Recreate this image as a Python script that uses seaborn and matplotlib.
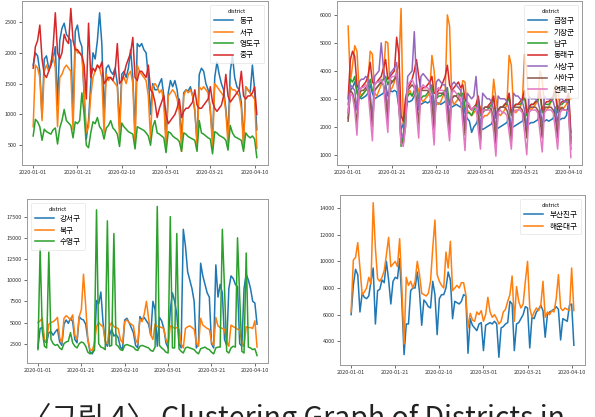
import numpy as np
import pandas as pd
import matplotlib
matplotlib.use("Agg")
import matplotlib.pyplot as plt
import matplotlib.dates as mdates
from matplotlib.ticker import MultipleLocator
import seaborn as sns

plt.rcParams["font.family"] = ["Noto Sans CJK KR", "DejaVu Sans"]

N_DAYS = 102
START = "2020-01-01"

# ---- panel 1 ----
dong_gu = [1800, 2000, 1950, 1700, 950, 1900, 1950,
           1750, 1800, 1900, 2100, 1150, 2200, 2400,
           2480, 2300, 2250, 2200, 900, 2350, 2450,
           2200, 2100, 1300, 600, 900, 1500, 2000,
           1900, 2200, 2650, 2150, 1000, 1750, 1800,
           1700, 1650, 1750, 1500, 800, 1650, 1700,
           1600, 1750, 2050, 1600, 700, 2150, 2100,
           2150, 2050, 2000, 1600, 1000, 1500, 1400,
           1400, 1500, 1580, 1300, 600, 1350, 1550,
           1450, 1550, 1400, 1100, 600, 1350, 1400,
           1380, 1450, 1300, 1050, 550, 1650, 1750,
           1700, 1500, 1400, 1050, 600, 1600, 1850,
           1650, 1500, 1400, 1100, 650, 1700, 1950,
           1600, 1450, 1400, 1200, 550, 1450, 1400,
           1350, 1800, 1400, 750]
seo_gu = [800, 1800, 1750, 1600, 900, 1700, 1800,
          1700, 1850, 1950, 1750, 800, 1600, 1650,
          1750, 1800, 1750, 1700, 750, 2100, 2000,
          2000, 1950, 1400, 700, 800, 1300, 1600,
          1700, 1800, 1750, 1600, 700, 1650, 1550,
          1600, 1550, 1500, 1450, 600, 1550, 1600,
          1500, 1650, 1700, 1500, 500, 1800, 1700,
          1650, 1600, 1550, 1300, 600, 1450, 1500,
          1450, 1350, 1400, 1200, 450, 1300, 1350,
          1400, 1350, 1250, 1050, 400, 1300, 1400,
          1350, 1400, 1300, 1100, 500, 1450, 1400,
          1450, 1400, 1350, 1100, 450, 1500, 1450,
          1400, 1350, 1300, 1050, 500, 1450, 1400,
          1400, 1350, 1300, 1100, 450, 1450, 1400,
          1350, 1300, 1250, 450]
yeongdo_gu = [650, 920, 880, 800, 580, 760, 720,
              700, 680, 750, 780, 520, 780, 900,
              1080, 900, 860, 820, 620, 880, 850,
              900, 1350, 1000, 500, 460, 700, 880,
              850, 950, 800, 750, 600, 780, 820,
              900, 780, 740, 680, 480, 860, 800,
              760, 720, 700, 680, 440, 800, 780,
              760, 740, 700, 650, 500, 800, 900,
              700, 680, 650, 620, 380, 720, 700,
              650, 620, 600, 560, 400, 700, 680,
              640, 620, 600, 580, 400, 900, 700,
              680, 650, 620, 600, 360, 720, 700,
              660, 640, 620, 580, 420, 820, 700,
              640, 620, 600, 580, 400, 700, 650,
              620, 650, 600, 300]
jung_gu = [1750, 2100, 2200, 2450, 1900, 1650, 1600,
           1700, 1800, 2100, 2650, 2000, 1900, 2000,
           2300, 2200, 2150, 2720, 2200, 2050, 2050,
           2000, 1950, 1800, 1250, 2480, 1600, 1750,
           1700, 1800, 1750, 1850, 1500, 1550, 1600,
           1600, 1550, 1700, 2150, 1500, 1550, 1650,
           1800, 1900, 2000, 2250, 1600, 1550, 1700,
           1700, 1650, 1600, 1800, 1400, 1350, 1200,
           950, 1100, 1200, 1300, 1000, 850, 900,
           950, 1000, 1100, 1250, 950, 1050, 1100,
           1100, 1150, 1200, 1400, 1150, 1100, 1100,
           1150, 1200, 1250, 1450, 1200, 1100, 1050,
           1100, 1150, 1300, 1650, 1300, 1200, 1250,
           1300, 1350, 1400, 1700, 1300, 1250, 1300,
           1300, 1350, 1450, 1000]

# ---- panel 2 ----
geumjeong_gu = [2300, 3300, 3400, 3600, 3300, 3100, 3000,
                3050, 3100, 3200, 3500, 3200, 3000, 3050,
                3100, 3150, 3200, 3500, 3100, 3300, 3250,
                3300, 3250, 2700, 1900, 2100, 2600, 2900,
                2900, 2950, 3100, 3400, 3000, 2800, 2850,
                2900, 2850, 2900, 3100, 2700, 2800, 2850,
                2800, 2850, 2900, 3200, 2800, 2700, 2750,
                2800, 2750, 2700, 2900, 2500, 2300, 2200,
                1800, 2000, 2100, 2300, 2000, 1900, 1950,
                2000, 2050, 2100, 2300, 1900, 1950, 2000,
                2050, 2100, 2150, 2400, 2000, 2000, 2050,
                2100, 2150, 2200, 2500, 2050, 2100, 2150,
                2150, 2200, 2250, 2600, 2150, 2200, 2250,
                2200, 2250, 2300, 2700, 2200, 2250, 2300,
                2300, 2400, 2900, 1500]
gijang_gun = [5600, 3600, 4200, 4900, 4700, 3300, 3100,
              3200, 3300, 3600, 4700, 4600, 3200, 3100,
              3300, 3500, 3700, 5050, 5000, 3300, 3400,
              3600, 4000, 4200, 6230, 2100, 2400, 3200,
              3300, 3100, 3200, 3500, 3300, 3000, 2900,
              3000, 3100, 3200, 4550, 4000, 2900, 2800,
              2900, 3100, 3200, 6000, 5600, 3000, 2800,
              2900, 3000, 3200, 3650, 3600, 2600, 2500,
              2400, 2500, 2600, 2800, 2700, 2300, 2400,
              2400, 2500, 2600, 3700, 3000, 2500, 2400,
              2500, 2600, 2800, 4550, 4200, 2600, 2500,
              2600, 2700, 2900, 4600, 4000, 2700, 2600,
              2700, 2800, 3000, 4000, 3700, 2700, 2600,
              2700, 2900, 3100, 3500, 3400, 2700, 2600,
              2700, 2800, 3100, 3000]
nam_gu = [2500, 3700, 3600, 3800, 3200, 3000, 3100,
          3200, 3300, 3400, 3700, 3300, 3300, 3400,
          3500, 3600, 3700, 3800, 3500, 3700, 3600,
          3700, 3900, 3200, 1300, 1700, 2800, 3100,
          3200, 3100, 3300, 3500, 2900, 3000, 3100,
          3100, 3200, 3300, 3500, 2800, 3000, 3100,
          3100, 3200, 3300, 3400, 2800, 3000, 3100,
          3100, 3200, 3100, 3200, 2700, 2500, 2500,
          2400, 2600, 2700, 3000, 2400, 2500, 2600,
          2600, 2700, 2800, 3000, 2300, 2600, 2700,
          2700, 2800, 2800, 3100, 2400, 2700, 2800,
          2800, 2800, 2900, 3100, 2400, 2700, 2800,
          2800, 2900, 2900, 3200, 2500, 2800, 2800,
          2800, 2900, 3000, 3200, 2500, 2800, 2800,
          2900, 2900, 3100, 1600]
dongnae_gu = [3000, 4400, 4700, 4500, 3500, 3300, 3400,
              3500, 3600, 3800, 4300, 3600, 3500, 3600,
              3700, 3800, 4100, 4400, 3700, 3800, 3900,
              4000, 5200, 4600, 2400, 2200, 3000, 3400,
              3500, 3700, 4000, 4400, 3800, 3300, 3400,
              3400, 3500, 3600, 3800, 3200, 3200, 3300,
              3400, 3600, 3800, 4200, 3500, 3300, 3400,
              3500, 3600, 3400, 3500, 3000, 2800, 2700,
              2600, 2700, 2800, 3100, 2500, 2600, 2700,
              2700, 2800, 2900, 3100, 2400, 2600, 2700,
              2700, 2800, 2900, 3200, 2500, 2700, 2800,
              2800, 2900, 3000, 3300, 2500, 2700, 2800,
              2800, 2900, 3000, 3300, 2600, 2800, 2900,
              2900, 3000, 3100, 3300, 2600, 2800, 2900,
              2900, 3000, 3200, 1800]
sasang_gu = [2800, 3500, 3400, 3300, 2600, 3600, 3700,
             3700, 3800, 3700, 3200, 2300, 3800, 3900,
             4000, 5000, 4100, 3500, 2500, 3900, 4000,
             4100, 4300, 3200, 1800, 1600, 2200, 3800,
             3900, 4000, 5400, 3600, 2600, 3800, 3900,
             3800, 3700, 3600, 3200, 2300, 3600, 3700,
             3600, 3500, 3500, 3100, 2200, 3500, 3600,
             3500, 3400, 3300, 2900, 2000, 3200, 3100,
             3000, 3100, 3800, 2700, 1900, 3200, 3100,
             3000, 3000, 2900, 2600, 1800, 3100, 3000,
             3000, 3000, 2900, 2600, 1700, 3200, 3100,
             3100, 3000, 2900, 2600, 1800, 3100, 3000,
             3000, 3000, 2900, 2600, 1700, 3100, 3000,
             3000, 3000, 2900, 2600, 1800, 3000, 3000,
             2900, 2900, 2800, 1400]
saha_gu = [2200, 3300, 3200, 2900, 2100, 3200, 3300,
           3300, 3400, 3300, 2900, 2000, 3300, 3400,
           3500, 3600, 3500, 3000, 2200, 3500, 3600,
           3700, 3800, 2800, 1500, 1400, 2000, 3300,
           3400, 3500, 3400, 3000, 2100, 3300, 3300,
           3300, 3300, 3200, 2800, 1900, 3100, 3200,
           3200, 3200, 3100, 2700, 1800, 3000, 3100,
           3100, 3000, 2900, 2600, 1700, 2800, 2700,
           2600, 2700, 2700, 2400, 1500, 2600, 2700,
           2700, 2700, 2600, 2300, 1400, 2600, 2700,
           2700, 2700, 2600, 2300, 1500, 2700, 2700,
           2700, 2700, 2600, 2300, 1600, 2700, 2700,
           2700, 2700, 2600, 2300, 1600, 2700, 2700,
           2700, 2700, 2600, 2300, 1600, 2600, 2700,
           2600, 2600, 2500, 1200]
yeonje_gu = [2500, 3200, 3100, 2600, 1700, 3300, 3400,
             3400, 3500, 3300, 2400, 1500, 3500, 3600,
             3600, 3700, 3500, 2600, 1800, 3700, 3800,
             3800, 3900, 2700, 1400, 1300, 2000, 3500,
             3600, 3700, 3500, 2500, 1600, 3400, 3500,
             3400, 3400, 3300, 2300, 1350, 3300, 3400,
             3300, 3300, 3200, 2200, 1500, 3200, 3300,
             3200, 3100, 3000, 2100, 1150, 2900, 2800,
             2600, 2700, 2700, 1900, 1200, 2600, 2600,
             2600, 2600, 2500, 1800, 950, 2500, 2600,
             2500, 2500, 2400, 1800, 1200, 2500, 2600,
             2600, 2600, 2500, 1800, 1000, 2500, 2600,
             2600, 2600, 2500, 1800, 1100, 2500, 2600,
             2600, 2600, 2500, 1900, 1200, 2500, 2600,
             2600, 2600, 2500, 900]

# ---- panel 3 ----
gangseo_gu = [2000, 4300, 4400, 2800, 2600, 3800, 3900,
              3500, 3900, 4200, 2700, 2300, 4800, 5300,
              4900, 5500, 5100, 3000, 2600, 5700, 5400,
              5300, 4800, 3000, 1500, 1300, 1800, 7600,
              7200, 8600, 5000, 2800, 2200, 3500, 4200,
              3400, 3600, 3200, 2100, 1800, 5300, 5500,
              5000, 4400, 3800, 2300, 2000, 5700, 5300,
              5600, 5200, 4800, 3500, 7500, 6500, 2200,
              5600, 5200, 4300, 2600, 2000, 6500, 8500,
              7500, 6000, 2500, 2000, 16000, 14000, 11000,
              10000, 9000, 7500, 2000, 2500, 12000, 10500,
              9500, 8500, 8000, 2500, 2000, 11800, 8000,
              9500, 8500, 3000, 2300, 9000, 10500, 10200,
              9500, 9200, 2500, 2200, 9000, 10700, 10000,
              9000, 7500, 7300, 4800]
buk_gu = [5000, 5200, 5500, 3000, 2700, 4800, 5000,
          5100, 5300, 5600, 3200, 2600, 5500, 5800,
          5600, 5300, 5900, 3500, 3000, 5700, 6500,
          10700, 7000, 3000, 1800, 1700, 2500, 4500,
          5000, 4700, 4500, 2800, 2500, 4600, 5000,
          4500, 4400, 4300, 3000, 2600, 5100, 5300,
          5000, 4800, 4600, 3000, 2500, 5400, 5100,
          6000, 7500, 5500, 3500, 3000, 4800, 4500,
          4500, 4400, 4300, 3000, 2400, 4600, 4500,
          4300, 4400, 4200, 2500, 2000, 4300, 4500,
          4600, 4400, 4200, 2600, 2200, 5500, 4700,
          4500, 4300, 4200, 2700, 2300, 5600, 4600,
          4400, 4300, 4200, 2800, 2200, 4700, 4500,
          4400, 4200, 4100, 2600, 2200, 4500, 4400,
          4400, 4300, 5200, 2100]
suyeong_gu = [1800, 13700, 4000, 2200, 2000, 13300, 3000,
              2500, 2300, 2400, 2000, 1800, 2500, 2700,
              2800, 3800, 2600, 2200, 2000, 2500, 2700,
              2600, 2200, 1500, 1300, 1500, 1700, 18300,
              2500, 2100, 2000, 1800, 17000, 2200, 2300,
              15500, 2400, 2200, 1800, 1700, 2300, 2400,
              2300, 2200, 2100, 1800, 1700, 2200, 2300,
              2200, 2100, 2000, 1700, 1600, 2100, 18700,
              2300, 2000, 1800, 1500, 1400, 17500, 2000,
              2000, 15500, 1900, 1600, 1400, 2000, 2100,
              2000, 1900, 1800, 1500, 1300, 1900, 2000,
              2100, 1900, 1800, 1500, 1300, 2000, 2100,
              2100, 16000, 9000, 1600, 1400, 2000, 2200,
              2100, 15000, 8000, 1600, 1400, 13200, 2100,
              2000, 1800, 1900, 1100]

# ---- panel 4 ----
busanjin_gu = [6000, 8200, 9400, 9000, 6200, 7600, 7300,
               7200, 7400, 8500, 9500, 5300, 7800, 7900,
               8600, 8400, 10000, 8600, 6800, 8500, 8800,
               8700, 10200, 7000, 3000, 5300, 5300, 7800,
               8000, 8000, 9200, 7700, 5200, 7100, 6900,
               6600, 6500, 8500, 7500, 4500, 7200, 7500,
               7500, 8000, 9200, 8600, 5700, 7000, 6900,
               6800, 7000, 7500, 7400, 3100, 5700, 5200,
               5000, 4800, 5300, 5400, 3300, 5200, 5300,
               5400, 5300, 5500, 5300, 2800, 5000, 5100,
               5300, 5400, 7000, 6800, 3300, 5300, 5400,
               5700, 6000, 6600, 6500, 3500, 5800, 5700,
               6200, 6400, 6700, 6300, 4300, 6000, 6200,
               6300, 6400, 6600, 6400, 4100, 5700, 5600,
               5500, 6700, 6800, 3700]
haeundae_gu = [6200, 10100, 10300, 11400, 9500, 7500, 7700,
               8000, 8800, 8300, 14400, 11000, 8700, 8500,
               8800, 9300, 10500, 11800, 9600, 9800, 10000,
               9600, 11700, 8000, 3800, 8800, 8200, 8500,
               8000, 8500, 10000, 9000, 7600, 7500, 7400,
               7600, 8500, 11000, 13100, 9000, 8500, 8200,
               8000, 10700, 9500, 11500, 7800, 8000, 8200,
               8000, 8400, 8400, 7500, 5000, 6100, 5600,
               5500, 6200, 6000, 6300, 5500, 6000, 7300,
               6200, 5800, 6000, 5700, 5300, 5500, 6200,
               6400, 7000, 7500, 8900, 5500, 8100, 7000,
               6500, 6800, 8500, 10000, 6500, 5800, 6200,
               6500, 6300, 6700, 8500, 5800, 6200, 6000,
               6300, 6200, 7200, 9000, 6500, 6300, 6500,
               6400, 6300, 9500, 6300]

panels = [
    ({"동구": dong_gu, "서구": seo_gu, "영도구": yeongdo_gu, "중구": jung_gu}, 500, "upper right"),
    ({"금정구": geumjeong_gu, "기장군": gijang_gun, "남구": nam_gu, "동래구": dongnae_gu,
      "사상구": sasang_gu, "사하구": saha_gu, "연제구": yeonje_gu}, 1000, "upper right"),
    ({"강서구": gangseo_gu, "북구": buk_gu, "수영구": suyeong_gu}, 2500, "upper left"),
    ({"부산진구": busanjin_gu, "해운대구": haeundae_gu}, 2000, "upper right"),
]

# axes boxes in pixels: left, top, right, bottom
W, H = 595, 417
boxes = [(22, 1, 268, 165), (337, 1, 582, 165), (27, 199, 268, 363), (340, 195, 585, 365)]

dates = pd.date_range(START, periods=N_DAYS)
fig = plt.figure(figsize=(W / 100, H / 100), dpi=100)

for (series, step, loc), (l, t, r, b) in zip(panels, boxes):
    ax = fig.add_axes([l / W, 1 - b / H, (r - l) / W, (b - t) / H])
    long = pd.concat([pd.DataFrame({"date": dates, "count": v, "district": k})
                      for k, v in series.items()], ignore_index=True)
    sns.lineplot(data=long, x="date", y="count", hue="district", palette="tab10",
                 linewidth=1.1, ax=ax)
    ax.set_xlabel(""); ax.set_ylabel("")
    ax.set_xticks(pd.date_range(START, periods=6, freq="20D"))
    ax.xaxis.set_major_formatter(mdates.DateFormatter("%Y-%m-%d"))
    ax.yaxis.set_major_locator(MultipleLocator(step))
    ax.tick_params(labelsize=4, length=2, width=0.5, pad=1.5, colors="#333333")
    for s in ax.spines.values():
        s.set_color("#999999"); s.set_linewidth(0.7)
    leg = ax.legend(title="district", loc=loc, fontsize=5.5, title_fontsize=4,
                    handlelength=2.5, labelspacing=0.45, borderpad=0.5,
                    framealpha=0.8, edgecolor="#dddddd")
    leg.get_frame().set_linewidth(0.5)

# caption, cropped at the bottom edge as in the source scan
fig.text(23 / W, 1 - 427 / H, "〈그림 4〉 Clustering Graph of Districts in", fontsize=20.5,
         color="#222222", va="baseline", ha="left")

fig.savefig("out.png", dpi=100)
